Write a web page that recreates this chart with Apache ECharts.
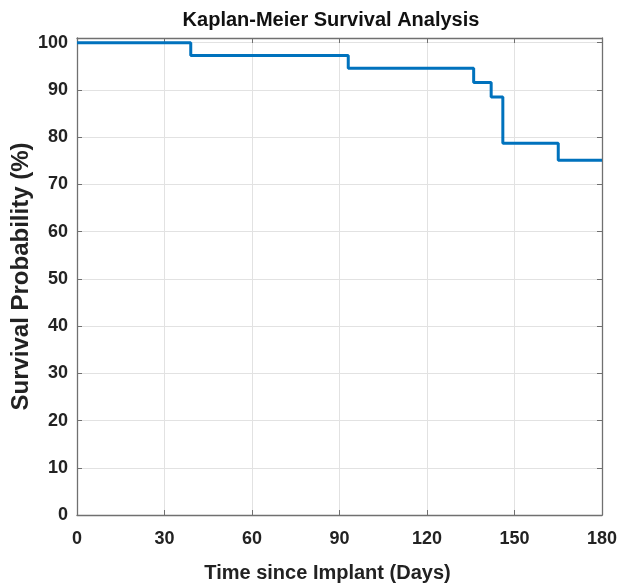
<!DOCTYPE html>
<html>
<head>
<meta charset="utf-8">
<script src="https://cdn.jsdelivr.net/npm/echarts@6/dist/echarts.min.js"></script>
<style>html,body{margin:0;padding:0;background:#fff}#c{width:619px;height:588px}</style>
</head>
<body>
<div id="c"></div>
<script>
var times = [0, 39, 93, 136, 142, 146, 165, 180];
var survival = [100, 97.3, 94.6, 91.6, 88.5, 78.7, 75.1, 75.1];
var xTicks = [0, 30, 60, 90, 120, 150, 180];
var yTicks = [0, 10, 20, 30, 40, 50, 60, 70, 80, 90, 100];

var font = '"Liberation Sans", Arial, sans-serif';
var data = times.map(function (t, i) { return [t, survival[i]]; });
var chart = echarts.init(document.getElementById('c'), null, {renderer: 'canvas'});
var axisLine = {show: true, onZero: false, lineStyle: {color: '#707070', width: 1.3}};
var tick = {show: true, inside: true, length: 5, lineStyle: {color: '#707070'}};
chart.setOption({
  backgroundColor: '#fff',
  animation: false,
  title: {
    text: 'Kaplan-Meier Survival Analysis',
    left: 326, top: 5, textAlign: 'center',
    textStyle: {fontFamily: font, fontWeight: 'bold', fontSize: 20, color: '#111'}
  },
  grid: {left: 77, right: 17, top: 38, bottom: 73, containLabel: false, outerBoundsMode: 'none'},
  xAxis: [{
    type: 'value', min: 0, max: 180, interval: 30,
    name: 'Time since Implant (Days)', nameLocation: 'middle', nameGap: 48,
    nameMoveOverlap: false,
    nameTextStyle: {fontFamily: font, fontWeight: 'bold', fontSize: 20, color: '#222', padding: [0, 24, 0, 0]},
    axisLine: axisLine, axisTick: tick,
    axisLabel: {fontFamily: font, fontWeight: 'bold', fontSize: 18, color: '#222', margin: 15,
      formatter: function (v) { return xTicks.indexOf(v) >= 0 ? String(v) : ''; }},
    splitLine: {show: true, lineStyle: {color: '#e2e2e2', width: 1}}
  }, {
    type: 'value', position: 'top', min: 0, max: 180, interval: 30,
    axisLine: axisLine, axisTick: tick,
    axisLabel: {show: false}, splitLine: {show: false}
  }],
  yAxis: [{
    type: 'value', min: 0, max: 101, interval: 10,
    name: 'Survival Probability (%)', nameLocation: 'middle', nameGap: 44,
    nameMoveOverlap: false,
    nameTextStyle: {fontFamily: font, fontWeight: 'bold', fontSize: 24, color: '#222'},
    axisLine: axisLine, axisTick: tick,
    axisLabel: {fontFamily: font, fontWeight: 'bold', fontSize: 18, color: '#222', margin: 9,
      formatter: function (v) { return yTicks.indexOf(v) >= 0 ? String(v) : ''; }},
    splitLine: {show: true, lineStyle: {color: '#e2e2e2', width: 1}}
  }, {
    type: 'value', position: 'right', min: 0, max: 101, interval: 10,
    axisLine: axisLine, axisTick: tick,
    axisLabel: {show: false}, splitLine: {show: false}
  }],
  series: [{
    type: 'line', step: 'end', data: data,
    xAxisIndex: 0, yAxisIndex: 0,
    showSymbol: false, symbol: 'none',
    lineStyle: {color: '#0072BD', width: 3}
  }]
});
</script>
</body>
</html>
